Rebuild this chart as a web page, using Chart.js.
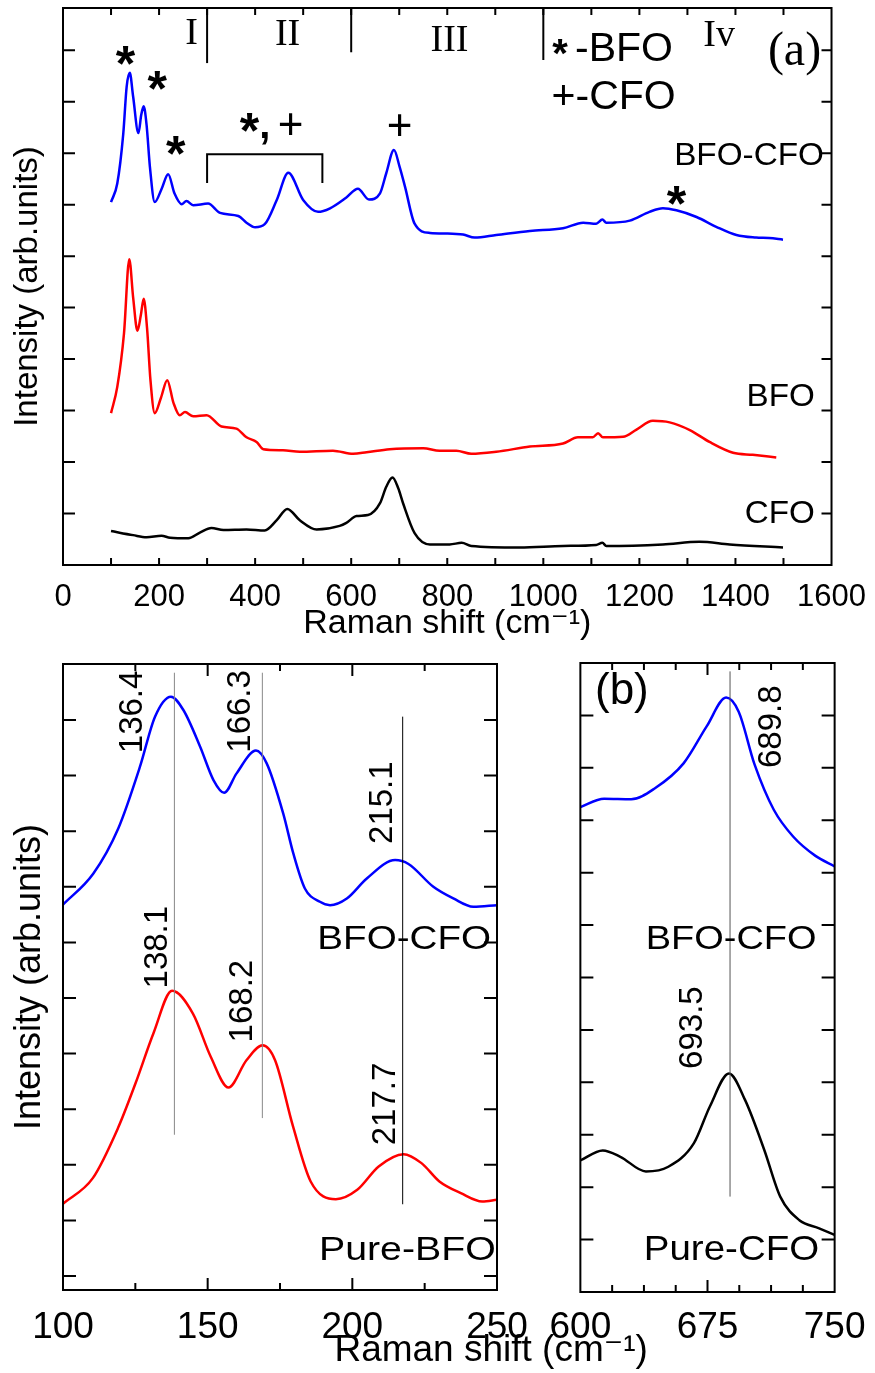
<!DOCTYPE html>
<html>
<head>
<meta charset="utf-8">
<script src="https://cdn.jsdelivr.net/npm/chart.js@4.4.1/dist/chart.umd.min.js"></script>
<style>
  html, body { margin: 0; padding: 0; background: #fff; }
  #wrap { position: relative; width: 875px; height: 1373px; overflow: hidden; }
  canvas { position: absolute; }
</style>
</head>
<body>
<div id="wrap">
  <canvas id="chartA" width="875" height="650" style="left:0;top:0"></canvas>
  <canvas id="chartB1" width="875" height="733" style="left:0;top:640px"></canvas>
  <canvas id="chartB2" width="335" height="733" style="left:540px;top:640px"></canvas>
</div>
<script>
// ---- panel (a): full spectra, offset for clarity ----
const shiftA_bfoCfo = [100, 113, 125.5, 132.5, 139, 146, 157, 163, 168, 174, 181, 191, 205, 219, 232, 247, 257, 271, 302, 327,
  365, 382, 400, 420, 445, 469, 500, 531, 556, 590, 614, 637, 660, 673, 689, 701, 712, 732, 764, 800,
  833, 857, 902, 972, 1041, 1083, 1110, 1123, 1131, 1180, 1221, 1249, 1277, 1319, 1360, 1402, 1443, 1470, 1499]
const intA_bfoCfo = [7.05, 7.41, 8.38, 9.29, 9.56, 9.10, 8.39, 8.75, 8.91, 8.55, 7.73, 7.05, 7.30, 7.59, 7.22, 7.01, 7.07, 6.99, 7.02, 6.84,
  6.78, 6.65, 6.56, 6.62, 7.09, 7.62, 7.09, 6.86, 6.93, 7.14, 7.31, 7.10, 7.22, 7.61, 8.06, 7.73, 7.35, 6.63, 6.45, 6.44,
  6.42, 6.36, 6.41, 6.49, 6.54, 6.65, 6.63, 6.71, 6.65, 6.69, 6.86, 6.93, 6.89, 6.76, 6.57, 6.41, 6.36, 6.35, 6.32]

const shiftA_bfo = [100, 113, 127, 138, 146, 155, 162, 168, 175, 182, 191, 204, 217, 230, 243, 254, 271, 299, 330, 361,
  382, 403, 417, 458, 493, 562, 604, 632, 680, 750, 784, 819, 850, 902, 972, 1041, 1072, 1103, 1114, 1124,
  1166, 1194, 1228, 1263, 1305, 1346, 1395, 1436, 1485]
const intA_bfo = [2.95, 3.46, 4.50, 5.94, 5.20, 4.55, 4.85, 5.17, 4.60, 3.60, 2.95, 3.25, 3.59, 3.15, 2.91, 2.97, 2.89, 2.91, 2.69, 2.65,
  2.48, 2.39, 2.25, 2.23, 2.20, 2.22, 2.16, 2.19, 2.25, 2.27, 2.22, 2.22, 2.16, 2.20, 2.30, 2.36, 2.48, 2.48, 2.56, 2.48,
  2.49, 2.63, 2.80, 2.77, 2.62, 2.39, 2.18, 2.14, 2.09]

const shiftA_cfo = [100, 146, 174, 205, 223, 261, 285, 309, 334, 382, 420, 445, 467, 493, 528, 576, 590, 611, 635, 660,
  673, 686, 698, 708, 732, 764, 805, 830, 850, 951, 1041, 1110, 1123, 1131, 1249, 1325, 1388, 1499]
const intA_cfo = [0.66, 0.58, 0.54, 0.57, 0.53, 0.52, 0.63, 0.72, 0.68, 0.69, 0.67, 0.87, 1.09, 0.87, 0.69, 0.76, 0.82, 0.95, 0.97, 1.20,
  1.52, 1.70, 1.49, 1.20, 0.62, 0.40, 0.40, 0.43, 0.37, 0.34, 0.37, 0.39, 0.43, 0.37, 0.40, 0.45, 0.40, 0.34]

const xTickLabelsA = [0, 200, 400, 600, 800, 1000, 1200, 1400, 1600]
const regionBounds = [300, 600, 1000]
const regionBoundTop = [9.75, 9.96, 9.81]
const bracketX = [300, 300, 540, 540]
const bracketY = [7.42, 7.98, 7.98, 7.42]

// ---- panel (b) left: low-frequency modes ----
const shiftB_bfoCfo = [100, 110.5, 119.1, 126.6, 131.8, 137.3, 141.6, 147.4, 152, 155.7, 160, 166.7, 170.4, 176.1, 179.6, 183.6,
  188.8, 192.3, 198.1, 205, 214.8, 219.4, 228, 234.9, 241.8, 250]
const intB_bfoCfo = [6.68, 7.24, 8.05, 9.16, 10.06, 10.42, 10.18, 9.52, 8.92, 8.69, 9.04, 9.45, 9.22, 8.32, 7.60, 6.97,
  6.73, 6.67, 6.79, 7.15, 7.48, 7.41, 7.00, 6.79, 6.64, 6.67]
const shiftB_bfo = [100, 110.3, 119, 125.1, 131.3, 137.7, 144.9, 151.1, 157.2, 163.4, 169, 173.3, 179.5, 185.6, 194.3, 201.7,
  209.1, 217.7, 223.9, 230.1, 237.5, 244.9, 250]
const intB_bfo = [1.30, 1.76, 2.66, 3.47, 4.37, 5.13, 4.72, 3.94, 3.39, 3.88, 4.15, 3.88, 2.69, 1.70, 1.38, 1.55,
  1.97, 2.19, 2.03, 1.70, 1.49, 1.34, 1.37]
const peakLineX_B1 = [138.5, 168.9, 217.4]
const peakLineFrom_B1 = [2.54, 2.84, 1.29]
const peakLineTo_B1 = [10.85, 10.85, 10.06]
const xTickLabelsB1 = [100, 150, 200, 250]

// ---- panel (b) right: A1g mode of CFO ----
const shiftB_bfoCfo2 = [600, 614, 630, 644, 661, 674.5, 686, 693.4, 702.8, 714.1, 725.5, 738.7, 750]
const intB_bfoCfo2 = [9.25, 9.41, 9.40, 9.61, 10.09, 10.79, 11.34, 11.07, 10.06, 9.20, 8.69, 8.32, 8.12]
const shiftB_cfo = [600, 613.2, 623.6, 638.7, 651.9, 667, 676.4, 687.7, 697.2, 708.5, 717.9, 729.2, 740.5, 750]
const intB_cfo = [2.51, 2.70, 2.58, 2.30, 2.39, 2.84, 3.54, 4.17, 3.66, 2.71, 1.82, 1.37, 1.22, 1.09]
const peakLineX_B2 = [688.3]
const peakLineFrom_B2 = [1.82]
const peakLineTo_B2 = [11.84]
const xTickLabelsB2 = [600, 675, 750]

const SANS = "'Liberation Sans', Arial, 'DejaVu Sans', sans-serif"
const SERIF = "'Liberation Serif', 'Times New Roman', serif"

Chart.defaults.font.family = SANS
Chart.defaults.color = '#000'
Chart.defaults.animation = false

const pts = (xs, ys) => xs.map((x, i) => ({ x: x, y: ys[i] }))

const curve = (xs, ys, color) => ({
  data: pts(xs, ys),
  borderColor: color,
  borderWidth: 2.5,
  pointRadius: 0,
  cubicInterpolationMode: 'monotone',
  fill: false
})

const segment = (xs, ys, color, width) => ({
  data: pts(xs, ys),
  borderColor: color,
  borderWidth: width,
  pointRadius: 0,
  tension: 0,
  fill: false,
  clip: false
})

const plainNumber = v => String(v)

// draws the box and the inward tick marks on all four sides
const framePlugin = {
  id: 'frame',
  afterDatasetsDraw(chart, args, opts) {
    const { ctx, chartArea: a } = chart
    const x = chart.scales.x, y = chart.scales.y
    ctx.save()
    ctx.strokeStyle = '#000'
    ctx.lineWidth = 2
    ctx.beginPath()
    opts.xTicks.forEach(v => {
      const px = x.getPixelForValue(v)
      const len = opts.xMajor.includes(v) ? opts.majorLen : opts.minorLen
      ctx.moveTo(px, a.bottom); ctx.lineTo(px, a.bottom - len)
      ctx.moveTo(px, a.top); ctx.lineTo(px, a.top + len)
    })
    opts.yTicks.forEach(v => {
      const py = y.getPixelForValue(v)
      ctx.moveTo(a.left, py); ctx.lineTo(a.left + opts.yLenLeft, py)
      ctx.moveTo(a.right, py); ctx.lineTo(a.right - opts.yLenRight, py)
    })
    ctx.stroke()
    ctx.strokeRect(a.left, a.top, a.right - a.left, a.bottom - a.top)
    ctx.restore()
  }
}

// text centred on its own ink box, placed in data units (or pixels with px:true)
function drawNote(ctx, it, px, py) {
  ctx.save()
  ctx.font = (it.weight || 'normal') + ' ' + it.size + 'px ' + (it.family || SANS)
  ctx.fillStyle = '#000'
  ctx.textAlign = 'left'
  ctx.textBaseline = 'alphabetic'
  ctx.translate(px, py)
  if (it.rot) ctx.rotate(it.rot * Math.PI / 180)
  ctx.scale(it.sx || 1, 1)
  const m = ctx.measureText(it.text)
  const tx = (m.actualBoundingBoxLeft - m.actualBoundingBoxRight) / 2
  const ty = (m.actualBoundingBoxAscent - m.actualBoundingBoxDescent) / 2
  ctx.fillText(it.text, tx, ty)
  ctx.restore()
}

const notesPlugin = {
  id: 'notes',
  afterDraw(chart, args, opts) {
    const x = chart.scales.x, y = chart.scales.y
    opts.items.forEach(it => {
      const px = it.px ? it.x : x.getPixelForValue(it.x)
      const py = it.px ? it.y : y.getPixelForValue(it.y)
      drawNote(chart.ctx, it, px, py)
    })
  }
}

const fixedSize = (w, h) => s => {
  if (w !== null) s.width = w
  if (h !== null) s.height = h
}

// ---------------- chart (a) ----------------
new Chart(document.getElementById('chartA'), {
  type: 'line',
  data: {
    datasets: [
      curve(shiftA_bfoCfo, intA_bfoCfo, '#0000ff'),
      curve(shiftA_bfo, intA_bfo, '#ff0000'),
      curve(shiftA_cfo, intA_cfo, '#000000'),
      ...regionBounds.map((b, i) => segment([b, b], [regionBoundTop[i], 10.82], '#000', 2)),
      segment(bracketX, bracketY, '#000', 2)
    ]
  },
  options: {
    responsive: false,
    maintainAspectRatio: false,
    layout: { padding: { top: 8, right: 43, bottom: 0, left: 0 } },
    plugins: {
      legend: { display: false },
      tooltip: { enabled: false },
      frame: {
        xTicks: [100, 200, 300, 400, 500, 600, 700, 800, 900, 1000, 1100, 1200, 1300, 1400, 1500],
        xMajor: [], majorLen: 7, minorLen: 7,
        yTicks: [1, 2, 3, 4, 5, 6, 7, 8, 9, 10], yLenLeft: 12, yLenRight: 10
      },
      notes: {
        items: [
          { text: '*', x: 130.5, y: 9.90, size: 50, weight: 'bold' },
          { text: '*', x: 197, y: 9.42, size: 50, weight: 'bold' },
          { text: '*', x: 235, y: 8.14, size: 50, weight: 'bold' },
          { text: '*', x: 389, y: 8.60, size: 50, weight: 'bold' },
          { text: ',', x: 420, y: 8.29, size: 40, weight: 'bold' },
          { text: '+', x: 474, y: 8.56, size: 44 },
          { text: '+', x: 701, y: 8.54, size: 44 },
          { text: '*', x: 1278, y: 7.18, size: 50, weight: 'bold' },
          { text: 'I', x: 268, y: 10.36, size: 38, family: SERIF },
          { text: 'II', x: 468, y: 10.35, size: 38, family: SERIF },
          { text: 'III', x: 805, y: 10.23, size: 38, family: SERIF },
          { text: 'Iv', x: 1367, y: 10.33, size: 38, family: SERIF },
          { text: '(a)', x: 1523, y: 9.94, size: 48, family: SERIF },
          { text: '*', x: 1035, y: 10.06, size: 40, weight: 'bold' },
          { text: '-BFO', x: 1167, y: 10.06, size: 41 },
          { text: '+-CFO', x: 1146.5, y: 9.13, size: 41 },
          { text: 'BFO-CFO', x: 1429.5, y: 7.98, size: 32, sx: 1.04 },
          { text: 'BFO', x: 1495, y: 3.30, size: 31, sx: 1.07 },
          { text: 'CFO', x: 1492, y: 1.03, size: 31, sx: 1.07 }
        ]
      }
    },
    scales: {
      x: {
        type: 'linear', min: 0, max: 1600,
        afterFit: fixedSize(null, 85),
        afterBuildTicks: s => { s.ticks = xTickLabelsA.map(v => ({ value: v })) },
        grid: { display: false },
        border: { display: false },
        ticks: { autoSkip: false, maxRotation: 0, padding: 9, callback: plainNumber, font: { size: 31, lineHeight: 1 } },
        title: { display: true, text: 'Raman shift (cm\u207B\u00B9)', font: { size: 34, lineHeight: 1 }, padding: { top: 0, bottom: 9 } }
      },
      y: {
        type: 'linear', min: 0, max: 10.82,
        afterFit: fixedSize(63, null),
        grid: { display: false },
        border: { display: false },
        ticks: { display: false },
        title: { display: true, text: 'Intensity (arb.units)', font: { size: 33, lineHeight: 1 }, padding: { top: 11, bottom: 0 } }
      }
    }
  },
  plugins: [framePlugin, notesPlugin]
})

// ---------------- chart (b) left ----------------
new Chart(document.getElementById('chartB1'), {
  type: 'line',
  data: {
    datasets: [
      ...peakLineX_B1.map((p, i) => segment([p, p], [peakLineFrom_B1[i], peakLineTo_B1[i]], i < 2 ? '#888' : '#000', 1)),
      curve(shiftB_bfoCfo, intB_bfoCfo, '#0000ff'),
      curve(shiftB_bfo, intB_bfo, '#ff0000')
    ]
  },
  options: {
    responsive: false,
    maintainAspectRatio: false,
    layout: { padding: { top: 24, right: 378, bottom: 0, left: 0 } },
    plugins: {
      legend: { display: false },
      tooltip: { enabled: false },
      frame: {
        xTicks: [125, 150, 175, 200, 225],
        xMajor: [150, 200], majorLen: 12, minorLen: 7,
        yTicks: [0, 1, 2, 3, 4, 5, 6, 7, 8, 9, 10], yLenLeft: 13, yLenRight: 13
      },
      notes: {
        items: [
          { text: '136.4', x: 123.2, y: 10.16, size: 33, rot: -90 },
          { text: '166.3', x: 160.5, y: 10.16, size: 33, rot: -90 },
          { text: '215.1', x: 209.6, y: 8.51, size: 33, rot: -90 },
          { text: '138.1', x: 131.8, y: 5.92, size: 33, rot: -90 },
          { text: '168.2', x: 161.5, y: 4.95, size: 33, rot: -90 },
          { text: '217.7', x: 210.6, y: 3.09, size: 33, rot: -90 },
          { text: 'BFO-CFO', x: 218.2, y: 6.08, size: 33, sx: 1.17 },
          { text: 'Pure-BFO', x: 219.3, y: 0.50, size: 33, sx: 1.19 },
          { text: 'Raman shift (cm\u207B\u00B9)', x: 492, y: 711, size: 37, px: true }
        ]
      }
    },
    scales: {
      x: {
        type: 'linear', min: 100, max: 250,
        afterFit: fixedSize(null, 83),
        afterBuildTicks: s => { s.ticks = xTickLabelsB1.map(v => ({ value: v })) },
        grid: { display: false },
        border: { display: false },
        ticks: { autoSkip: false, maxRotation: 0, padding: 11.5, callback: plainNumber, font: { size: 37, lineHeight: 1 } }
      },
      y: {
        type: 'linear', min: -0.252, max: 11.007,
        afterFit: fixedSize(63, null),
        grid: { display: false },
        border: { display: false },
        ticks: { display: false },
        title: { display: true, text: 'Intensity (arb.units)', font: { size: 36, lineHeight: 1 }, padding: { top: 12, bottom: 0 } }
      }
    }
  },
  plugins: [framePlugin, notesPlugin]
})

// ---------------- chart (b) right ----------------
new Chart(document.getElementById('chartB2'), {
  type: 'line',
  data: {
    datasets: [
      ...peakLineX_B2.map((p, i) => segment([p, p], [peakLineFrom_B2[i], peakLineTo_B2[i]], '#555', 1)),
      curve(shiftB_bfoCfo2, intB_bfoCfo2, '#0000ff'),
      curve(shiftB_cfo, intB_cfo, '#000000')
    ]
  },
  options: {
    responsive: false,
    maintainAspectRatio: false,
    layout: { padding: { top: 23, right: 35, bottom: 0, left: 0 } },
    plugins: {
      legend: { display: false },
      tooltip: { enabled: false },
      frame: {
        xTicks: [618.75, 637.5, 656.25, 675, 693.75, 712.5, 731.25],
        xMajor: [675], majorLen: 12, minorLen: 7,
        yTicks: [1, 2, 3, 4, 5, 6, 7, 8, 9, 10, 11], yLenLeft: 13, yLenRight: 13
      },
      notes: {
        items: [
          { text: '(b)', x: 624.3, y: 11.43, size: 44 },
          { text: '689.8', x: 711.5, y: 10.78, size: 33, rot: -90 },
          { text: '693.5', x: 665.1, y: 5.04, size: 33, rot: -90 },
          { text: 'BFO-CFO', x: 689.4, y: 6.76, size: 33, sx: 1.15 },
          { text: 'Pure-CFO', x: 689.4, y: 0.84, size: 35, sx: 1.1 }
        ]
      }
    },
    scales: {
      x: {
        type: 'linear', min: 600, max: 750,
        afterFit: fixedSize(null, 81),
        afterBuildTicks: s => { s.ticks = xTickLabelsB2.map(v => ({ value: v })) },
        grid: { display: false },
        border: { display: false },
        ticks: { autoSkip: false, maxRotation: 0, padding: 9.5, callback: plainNumber, font: { size: 37, lineHeight: 1 } }
      },
      y: {
        type: 'linear', min: 0, max: 12,
        afterFit: fixedSize(35, null),
        grid: { display: false },
        border: { display: false },
        ticks: { display: false }
      }
    }
  },
  plugins: [framePlugin, notesPlugin]
})
</script>
</body>
</html>
